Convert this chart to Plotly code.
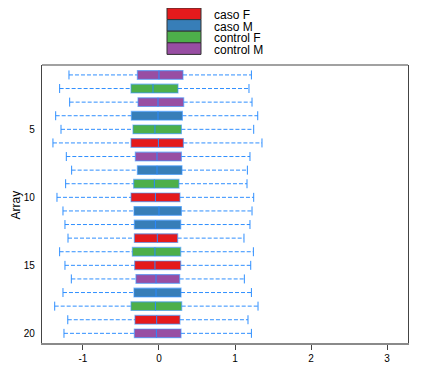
import plotly.graph_objects as go

arrays = list(range(1, 21))
groups = ["control M", "control F", "control M", "caso M", "control F", "caso F", "control M", "caso M",
          "control F", "caso F", "caso M", "caso M", "caso F", "control F", "caso F", "control M",
          "caso M", "control F", "caso F", "control M"]
whisk_lo = [-1.184, -1.307, -1.175, -1.359, -1.289, -1.395, -1.219, -1.149, -1.228, -1.342,
            -1.263, -1.237, -1.197, -1.307, -1.237, -1.153, -1.263, -1.372, -1.200, -1.250]
q1 = [-0.284, -0.368, -0.276, -0.363, -0.342, -0.368, -0.311, -0.284, -0.333, -0.368,
      -0.329, -0.324, -0.324, -0.350, -0.320, -0.303, -0.329, -0.368, -0.316, -0.324]
median = [0.000, -0.079, -0.013, -0.013, -0.053, -0.008, -0.026, -0.026, -0.061, -0.047,
          0.000, -0.047, -0.022, -0.053, -0.053, -0.039, -0.039, -0.047, -0.030, -0.034]
q3 = [0.316, 0.250, 0.325, 0.308, 0.295, 0.321, 0.295, 0.303, 0.263, 0.276,
      0.295, 0.286, 0.246, 0.286, 0.286, 0.272, 0.290, 0.299, 0.276, 0.290]
whisk_hi = [1.216, 1.184, 1.224, 1.299, 1.246, 1.355, 1.197, 1.163, 1.158, 1.246,
            1.224, 1.197, 1.118, 1.242, 1.207, 1.123, 1.216, 1.303, 1.171, 1.216]

legend_labels = ["caso F", "caso M", "control F", "control M"]
legend_colors = ["#E41A1C", "#377EB8", "#4DAF4A", "#984EA3"]
x_ticks = [-1, 0, 1, 2, 3]
y_ticks = [5, 10, 15, 20]

# page is 432x385, the html body adds an 8px margin
OFF = 8
W, H = 432 - OFF, 385 - OFF
PL, PR, PT, PB = 42, 408, 65, 343          # plot frame in page pixels
ML, MR, MT, MB = PL - OFF, W - (PR - OFF), PT - OFF, H - (PB - OFF)
BOXW = 0.64
HALF = 0.33
UMB = "#2f8fff"

fig = go.Figure()

# whiskers (dashed)
wx, wy = [], []
for a, lo, a1, b3, hi in zip(arrays, whisk_lo, q1, q3, whisk_hi):
    wx += [lo, a1, None, b3, hi, None]
    wy += [a, a, None, a, a, None]
fig.add_trace(go.Scatter(x=wx, y=wy, mode="lines", line=dict(color=UMB, width=1, dash="4px,2px"),
                         hoverinfo="skip", showlegend=False))
# caps
cx, cy = [], []
for a, lo, hi in zip(arrays, whisk_lo, whisk_hi):
    for v in (lo, hi):
        cx += [v, v, None]
        cy += [a - HALF, a + HALF, None]
fig.add_trace(go.Scatter(x=cx, y=cy, mode="lines", line=dict(color=UMB, width=1),
                         hoverinfo="skip", showlegend=False))

# boxes
for lab, col in zip(legend_labels, legend_colors):
    idx = [i for i, g in enumerate(groups) if g == lab]
    fig.add_trace(go.Bar(
        orientation="h",
        y=[arrays[i] for i in idx],
        x=[q3[i] - q1[i] for i in idx],
        base=[q1[i] for i in idx],
        width=BOXW,
        marker=dict(color=col, line=dict(color="rgba(60,150,255,0.6)", width=1.2)),
        name=lab, showlegend=False, hoverinfo="skip"))

# medians
mx, my = [], []
for a, m in zip(arrays, median):
    mx += [m, m, None]
    my += [a - BOXW / 2, a + BOXW / 2, None]
fig.add_trace(go.Scatter(x=mx, y=my, mode="lines", line=dict(color="#2a8aff", width=1),
                         hoverinfo="skip", showlegend=False))

pw, ph = PR - PL, PB - PT
def px_x(p):
    return (p - PL) / pw
def px_y(p):
    return (PB - p) / ph

shapes = []
annotations = []
# top frame line
shapes.append(dict(type="line", xref="paper", yref="paper", x0=0, x1=1, y0=1, y1=1,
                   line=dict(color="#444", width=1.2)))
# legend
top = 8.0
step = 11.6
for i, (lab, col) in enumerate(zip(legend_labels, legend_colors)):
    y0 = top + i * step
    shapes.append(dict(type="rect", xref="paper", yref="paper",
                       x0=px_x(167), x1=px_x(201), y0=px_y(y0), y1=px_y(y0 + step),
                       fillcolor=col, line=dict(color="#333", width=1)))
    annotations.append(dict(xref="paper", yref="paper", x=px_x(213), y=px_y(y0 + step / 2 + 1.5),
                            text=lab, showarrow=False, xanchor="left", yanchor="middle",
                            borderpad=0,
                            font=dict(size=12, color="black", family="Liberation Sans, Arial")))
# y axis title
annotations.append(dict(xref="paper", yref="paper", x=px_x(15.5), y=px_y(205), text="Array",
                        textangle=-90, showarrow=False, xanchor="center", yanchor="middle",
                        borderpad=0,
                        font=dict(size=12, color="black", family="Liberation Sans, Arial")))

fig.update_layout(
    width=W, height=H,
    margin=dict(l=ML, r=MR, t=MT, b=MB, pad=0, autoexpand=False),
    plot_bgcolor="white", paper_bgcolor="white",
    barmode="overlay",
    shapes=shapes, annotations=annotations,
    font=dict(family="Liberation Sans, Arial", size=10, color="black"),
    xaxis=dict(range=[-1.539, 3.276], tickvals=x_ticks, ticktext=[str(v) for v in x_ticks],
               showgrid=False, zeroline=False, showline=True, linecolor="#8a8a8a", linewidth=2,
               ticks="outside", ticklen=5, tickcolor="#444", tickwidth=1.2,
               tickfont=dict(size=10), automargin=False),
    yaxis=dict(range=[20.71, 0.27], tickvals=y_ticks, ticktext=[str(v) for v in y_ticks],
               showgrid=False, zeroline=False, showline=True, mirror=True, linecolor="#444",
               linewidth=1.2, ticks="", ticklabelstandoff=4,
               tickfont=dict(size=10), automargin=False),
)

fig.write_html("out.html")
